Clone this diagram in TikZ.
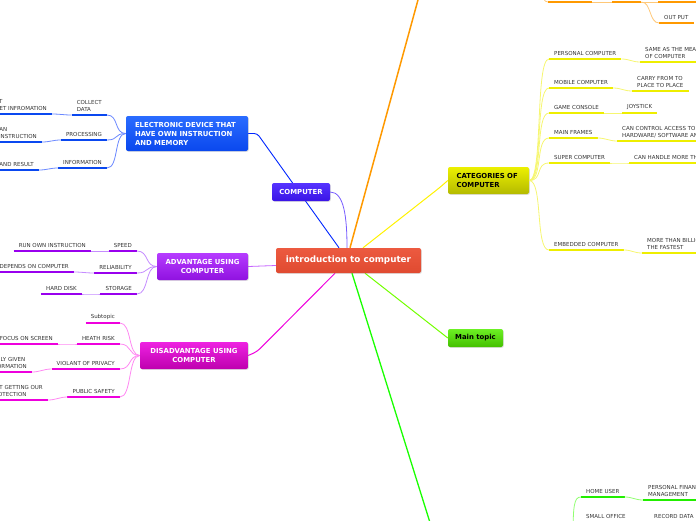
\documentclass[tikz,border=0pt]{standalone}
\usepackage{fontspec}
\usetikzlibrary{shadows,backgrounds}
\newfontfamily\mapfamily{DejaVu Sans}
\newcommand{\leaffont}{\mapfamily\fontsize{5.5}{7}\selectfont}
\newcommand{\topicfont}{\mapfamily\bfseries\fontsize{6.9}{9}\selectfont}
\newcommand{\rootfont}{\mapfamily\bfseries\fontsize{8.8}{10}\selectfont}
\definecolor{leaftext}{HTML}{333333}
\definecolor{roottop}{HTML}{EC5A40}
\definecolor{rootbot}{HTML}{E04A30}
\definecolor{comptop}{HTML}{5533FF}
\definecolor{compbot}{HTML}{3A14E6}
\definecolor{electop}{HTML}{2A6CFF}
\definecolor{elecbot}{HTML}{0A48EE}
\definecolor{advtop}{HTML}{B63CFF}
\definecolor{advbot}{HTML}{9012E0}
\definecolor{distop}{HTML}{EE22E2}
\definecolor{disbot}{HTML}{BE00AE}
\definecolor{cattop}{HTML}{ECF000}
\definecolor{catbot}{HTML}{B4BA00}
\definecolor{mttop}{HTML}{6CF024}
\definecolor{mtbot}{HTML}{44C000}
\definecolor{bluedark}{HTML}{0A48F0}
\definecolor{bluetwig}{HTML}{6A88FF}
\definecolor{purpdark}{HTML}{9900EE}
\definecolor{purptwig}{HTML}{C58CFF}
\definecolor{magdark}{HTML}{EE00DD}
\definecolor{magtwig}{HTML}{FF88F2}
\definecolor{yeldark}{HTML}{EEEE00}
\definecolor{yeltwig}{HTML}{F6F670}
\definecolor{orgdark}{HTML}{FF9900}
\definecolor{orgtwig}{HTML}{FFC878}
\definecolor{grndark}{HTML}{22EE00}
\definecolor{grntwig}{HTML}{90FF70}
\tikzset{
  topic/.style={rounded corners=2pt, inner sep=0pt, font=\topicfont, text=white,
    drop shadow={opacity=0.25, shadow xshift=0.8pt, shadow yshift=-0.8pt}},
  leaf/.style={font=\leaffont, text=leaftext, inner xsep=5pt, inner ysep=3pt, align=left,
    append after command={(\tikzlastnode.south west) edge[draw=#1, line width=2.2pt] (\tikzlastnode.south east)}},
  twigl/.style 2 args={draw=#1, line width=0.8pt, out=180, in=0, distance=#2},
  twigr/.style 2 args={draw=#1, line width=0.8pt, out=0, in=180, distance=#2},
}
\begin{document}
\begin{tikzpicture}[x=1pt, y=-1pt]
  \useasboundingbox (0,0) rectangle (696,520);
  \clip (0,0) rectangle (696,520);
  % off-page topics
  \coordinate (hw) at (424,-22);
  \coordinate (hwfork) at (536,-16);
  \coordinate (usr) at (437,545);
  \coordinate (usrfork) at (573,540);

  % main branches
  \node[topic, top color=roottop, bottom color=rootbot, minimum width=145pt, minimum height=25pt, font=\rootfont] (main) at (348.5,260.5) {introduction to computer};
  \node[topic, top color=comptop, bottom color=compbot, minimum width=58pt, minimum height=18pt] (comp) at (301,192) {COMPUTER};
  \node[topic, top color=electop, bottom color=elecbot, minimum height=35pt, inner xsep=9pt, text width=104pt, align=left] (elec) at (187,133.5) {ELECTRONIC DEVICE THAT\\HAVE OWN INSTRUCTION\\AND MEMORY};
  \node[topic, top color=advtop, bottom color=advbot, minimum width=91pt, minimum height=27pt, align=center] (adv) at (202.5,266.5) {ADVANTAGE USING\\COMPUTER};
  \node[topic, top color=distop, bottom color=disbot, minimum width=108pt, minimum height=27pt, align=center] (disadv) at (194,355.5) {DISADVANTAGE USING\\COMPUTER};
  \node[topic, top color=cattop, bottom color=catbot, text=black, minimum height=27pt, inner xsep=8.5pt, text width=64pt, align=left] (cat) at (488.5,180.5) {CATEGORIES OF\\COMPUTER};
  \node[topic, top color=mttop, bottom color=mtbot, text=black, minimum width=55pt, minimum height=18pt] (maint) at (475.5,338) {Main topic};

  \begin{pgfonlayer}{background}
  \draw[orgdark, line width=1.5pt] ([xshift=1.5pt]main.north) -- (hw);
  \draw[blue!85!cyan, line width=0.9pt, rounded corners=3pt] ([xshift=-9.5pt]main.north) -- ([xshift=9pt]elec.east) -- (elec.east);
  \draw[comptop!80, line width=0.8pt] (comp.east) .. controls +(14,0) and +(0,-30) .. ([xshift=-1.5pt]main.north);
  \draw[yellow, line width=1pt, rounded corners=4pt] ([xshift=14.5pt]main.north) -- ([xshift=-8pt, yshift=-7pt]cat.west) -- (cat.west);
  \draw[green!55!yellow, line width=1pt] ([xshift=16.5pt]main.south) -- (maint.west);
  \draw[green!90!yellow, line width=1.3pt] ([xshift=3.5pt]main.south) -- (usr);
  \draw[magdark, line width=1pt, rounded corners=4pt] ([xshift=-13.5pt]main.south) -- ([xshift=9pt, yshift=4pt]disadv.east) -- (disadv.east);
  \draw[advtop!80, line width=0.8pt] ([yshift=-5pt]main.west) -- (adv.east);
  \end{pgfonlayer}

  % electronic device
  \node[leaf=bluedark, anchor=south east] (cd) at (107,115) {COLLECT\\DATA};
  \node[leaf=bluedark, anchor=south east] (inp) at (52,114) {INPUT\\TO GET INFROMATION};
  \node[leaf=bluedark, anchor=south east] (proc) at (107,140) {PROCESSING};
  \node[leaf=bluedark, anchor=south east] (can) at (42,142) {IT CAN\\DO INSTRUCTION};
  \node[leaf=bluedark, anchor=south east] (info) at (107,168) {INFORMATION};
  \node[leaf=bluedark, anchor=south east] (ar) at (39,170) {OUTPUT AND RESULT};
  \foreach \n in {cd, proc, info}
    \draw[twigl={bluetwig}{12pt}] (elec.west) to (\n.south east);
  \draw[twigl={bluetwig}{8pt}] (cd.south west) to (inp.south east);
  \draw[twigl={bluetwig}{8pt}] (proc.south west) to (can.south east);
  \draw[twigl={bluetwig}{8pt}] (info.south west) to (ar.south east);

  % advantage
  \node[leaf=purpdark, anchor=south east] (speed) at (137,251) {SPEED};
  \node[leaf=purpdark, anchor=south east] (run) at (91,251) {RUN OWN INSTRUCTION};
  \node[leaf=purpdark, anchor=south east] (rel) at (137,273) {RELIABILITY};
  \node[leaf=purpdark, anchor=south east] (dep) at (74,272) {RESULT DEPENDS ON COMPUTER};
  \node[leaf=purpdark, anchor=south east] (stor) at (137,294) {STORAGE};
  \node[leaf=purpdark, anchor=south east] (hd) at (82,294) {HARD DISK};
  \foreach \n in {speed, rel, stor}
    \draw[twigl={purptwig}{12pt}] (adv.west) to (\n.south east);
  \draw[twigl={purptwig}{8pt}] (speed.south west) to (run.south east);
  \draw[twigl={purptwig}{8pt}] (rel.south west) to (dep.south east);
  \draw[twigl={purptwig}{8pt}] (stor.south west) to (hd.south east);

  % disadvantage
  \node[leaf=magdark, anchor=south east] (sub) at (120,323) {Subtopic};
  \node[leaf=magdark, anchor=south east] (heath) at (120,344) {HEATH RISK};
  \node[leaf=magdark, anchor=south east] (focus) at (58,344) {EYES FOCUS ON SCREEN};
  \node[leaf=magdark, anchor=south east] (priv) at (120,369) {VIOLANT OF PRIVACY};
  \node[leaf=magdark, anchor=south east] (given) at (32,372) {EASILY GIVEN\\INFORMATION};
  \node[leaf=magdark, anchor=south east] (pub) at (120,397) {PUBLIC SAFETY};
  \node[leaf=magdark, anchor=south east] (getting) at (48,400) {NOT GETTING OUR\\PROTECTION};
  \foreach \n in {sub, heath, priv, pub}
    \draw[twigl={magtwig}{12pt}] (disadv.west) to (\n.south east);
  \draw[twigl={magtwig}{8pt}] (heath.south west) to (focus.south east);
  \draw[twigl={magtwig}{8pt}] (priv.south west) to (given.south east);
  \draw[twigl={magtwig}{8pt}] (pub.south west) to (getting.south east);

  % categories
  \node[leaf=yeldark, anchor=south west] (pc) at (549,59) {PERSONAL COMPUTER};
  \node[leaf=yeldark, anchor=south west] (same) at (640,62) {SAME AS THE MEANING\\OF COMPUTER};
  \node[leaf=yeldark, anchor=south west] (mob) at (549,88) {MOBILE COMPUTER};
  \node[leaf=yeldark, anchor=south west] (carry) at (632,91) {CARRY FROM TO\\PLACE TO PLACE};
  \node[leaf=yeldark, anchor=south west] (game) at (549,113) {GAME CONSOLE};
  \node[leaf=yeldark, anchor=south west] (joy) at (622,113) {JOYSTICK};
  \node[leaf=yeldark, anchor=south west] (mf) at (549,138) {MAIN FRAMES};
  \node[leaf=yeldark, anchor=south west] (ctrl) at (617,141) {CAN CONTROL ACCESS TO\\HARDWARE/ SOFTWARE AND DATA};
  \node[leaf=yeldark, anchor=south west] (sup) at (549,163) {SUPER COMPUTER};
  \node[leaf=yeldark, anchor=south west] (handle) at (629,163) {CAN HANDLE MORE THAN ANY};
  \node[leaf=yeldark, anchor=south west] (emb) at (549,250) {EMBEDDED COMPUTER};
  \node[leaf=yeldark, anchor=south west] (bill) at (642,253) {MORE THAN BILLION\\THE FASTEST};
  \foreach \n in {pc, mob, game, mf, sup, emb}
    \draw[twigr={yeltwig}{14pt}] (cat.east) to (\n.south west);
  \draw[twigr={yeltwig}{8pt}] (pc.south east) to (same.south west);
  \draw[twigr={yeltwig}{8pt}] (mob.south east) to (carry.south west);
  \draw[twigr={yeltwig}{8pt}] (game.south east) to (joy.south west);
  \draw[twigr={yeltwig}{8pt}] (mf.south east) to (ctrl.south west);
  \draw[twigr={yeltwig}{8pt}] (sup.south east) to (handle.south west);
  \draw[twigr={yeltwig}{8pt}] (emb.south east) to (bill.south west);

  % top (orange)
  \node[leaf=orgdark, anchor=south west, minimum width=44pt] (oa) at (548,2) {};
  \node[leaf=orgdark, anchor=south west, minimum width=29pt] (ob) at (612,2) {};
  \node[leaf=orgdark, anchor=south west, minimum width=40pt] (oc) at (658,2) {};
  \node[leaf=orgdark, anchor=south west] (outp) at (659,23) {OUT PUT};
  \draw[twigr={orgtwig}{8pt}] (hwfork) to (oa.south west);
  \draw[orgtwig, line width=0.8pt] (oa.south east) -- (ob.south west);
  \draw[orgtwig, line width=0.8pt] (ob.south east) -- (oc.south west);
  \draw[twigr={orgtwig}{10pt}] (ob.south east) to (outp.south west);

  % bottom (green)
  \node[leaf=grndark, anchor=south west] (home) at (581,497) {HOME USER};
  \node[leaf=grndark, anchor=south west] (pfm) at (643,500) {PERSONAL FINANCE\\MANAGEMENT};
  \node[leaf=grndark, anchor=south west] (office) at (581,522) {SMALL OFFICE};
  \node[leaf=grndark, anchor=south west] (rec) at (649,522) {RECORD DATA};
  \draw[grntwig, line width=0.8pt] (usrfork) .. controls (573,505) and (574,497) .. (home.south west);
  \draw[grntwig, line width=0.8pt] (usrfork) .. controls (573,525) and (574,522) .. (office.south west);
  \draw[twigr={grntwig}{8pt}] (home.south east) to (pfm.south west);
  \draw[twigr={grntwig}{8pt}] (office.south east) to (rec.south west);
\end{tikzpicture}
\end{document}
